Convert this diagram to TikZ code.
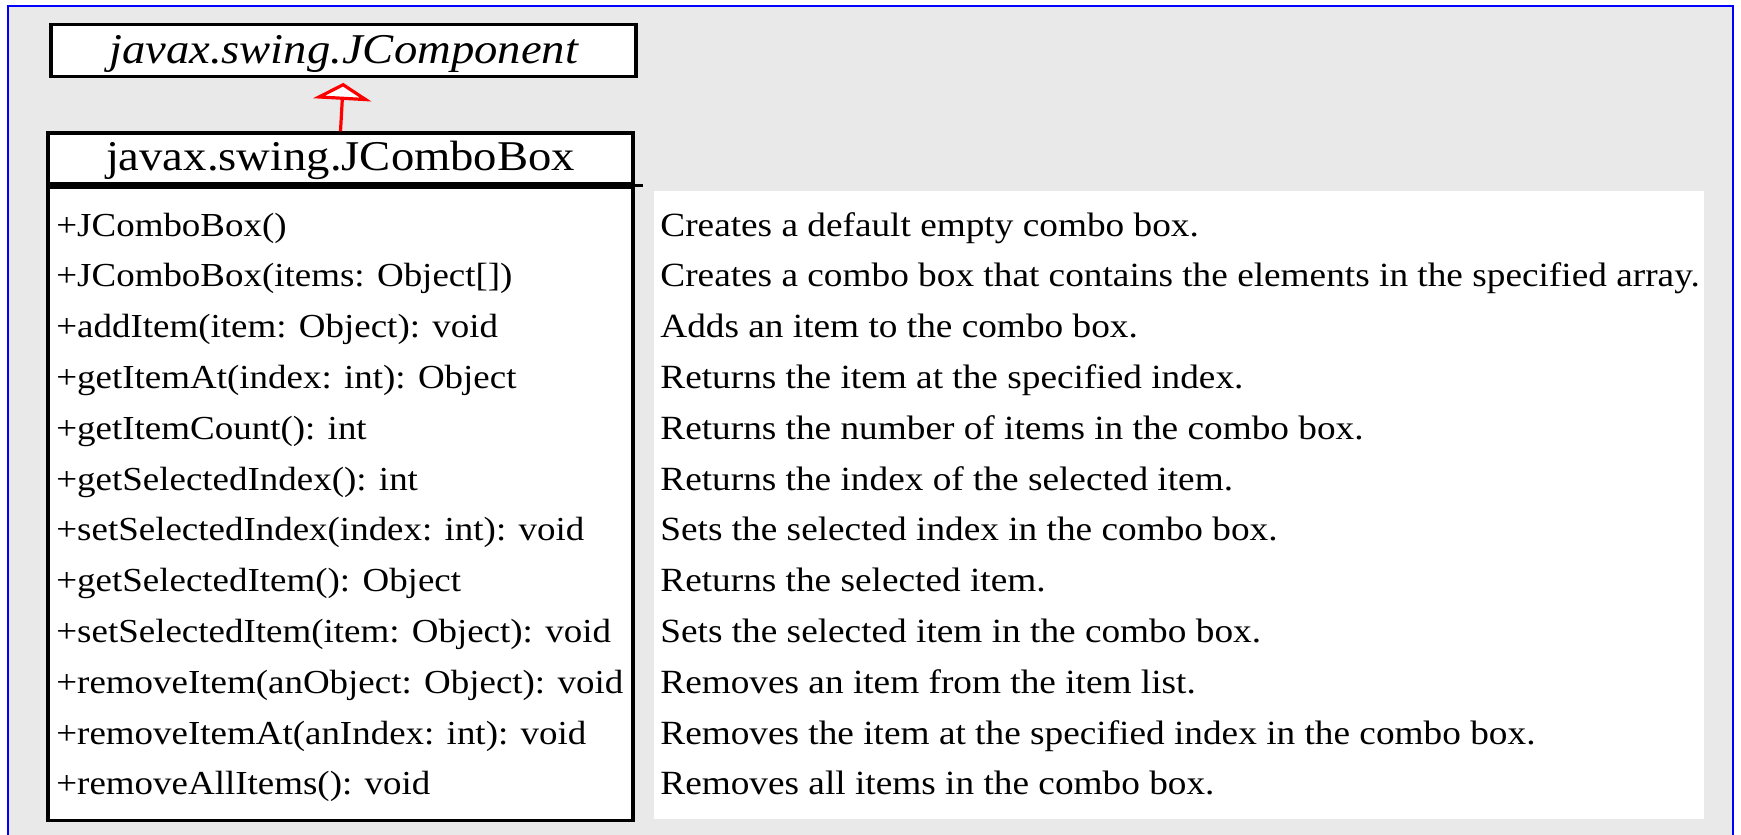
\documentclass[tikz,border=0pt]{standalone}
\usepackage{fontspec}
\setmainfont[FakeStretch=1.1]{Liberation Serif}
\usetikzlibrary{arrows.meta, positioning}
\definecolor{panelgray}{RGB}{233, 233, 233}
\definecolor{frameblue}{RGB}{0, 0, 255}

\tikzset{
  classbox/.style={draw, line width=1.6pt, fill=white, inner sep=0pt, minimum width=292.5pt},
  rowtext/.style={anchor=base west, inner sep=0pt, font=\fontsize{16.8}{19}\selectfont},
  desctext/.style={rowtext, font=\fontsize{16.95}{19}\selectfont},
  inherit/.style={-{Triangle[fill=white, width=29pt, length=8.5pt]}, red, line width=1.6pt, shorten >=2.5pt}
}

\begin{document}
\begin{tikzpicture}[x=0.5pt, y=-0.5pt]
  \useasboundingbox (0,0) rectangle (1741,835);

  % background and frame
  \fill[panelgray] (8,6) rectangle (1733,840);
  \draw[frameblue, line width=1pt] (8,840) -- (8,6) -- (1733,6) -- (1733,840);
  \fill[white] (654,191) rectangle (1704,819);

  % superclass
  \node[classbox, minimum height=26pt, text depth=1pt, font=\fontsize{21.2}{22}\selectfont\itshape] (jcomponent) at (343.5,50.3) {javax.swing.JComponent};

  % class box
  \node[classbox, minimum height=25.5pt, text depth=3pt, font=\fontsize{21.2}{23}\selectfont] (jcombobox) at (340.5,158.5) {javax.swing.JComboBox};
  \node[classbox, minimum height=316.5pt, below=0pt of jcombobox] (members) {};
  \draw[line width=1.6pt] (jcombobox.south west) -- ([xshift=4pt]jcombobox.south east);

  \draw[inherit] (jcombobox.north) -- (jcomponent.south);

  % methods and descriptions
  \foreach \sig/\desc [count=\i] in {
    +JComboBox()/Creates a default empty combo box.,
    +JComboBox(items: Object[])/Creates a combo box that contains the elements in the specified array.,
    +addItem(item: Object): void/Adds an item to the combo box.,
    +getItemAt(index: int): Object/Returns the item at the specified index.,
    +getItemCount(): int/Returns the number of items in the combo box.,
    +getSelectedIndex(): int/Returns the index of the selected item.,
    +setSelectedIndex(index: int): void/Sets the selected index in the combo box.,
    +getSelectedItem(): Object/Returns the selected item.,
    +setSelectedItem(item: Object): void/Sets the selected item in the combo box.,
    +removeItem(anObject: Object): void/Removes an item from the item list.,
    +removeItemAt(anIndex: int): void/Removes the item at the specified index in the combo box.,
    +removeAllItems(): void/Removes all items in the combo box.} {
    \node[rowtext] (sig\i) at (56,{236+50.8*(\i-1)}) {\sig};
    \node[desctext] (desc\i) at (660,{236+50.8*(\i-1)}) {\desc};
  }

\end{tikzpicture}
\end{document}
